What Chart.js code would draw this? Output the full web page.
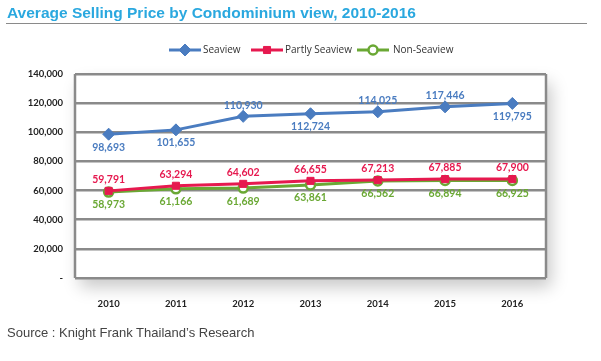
<!DOCTYPE html>
<html lang="en">
<head>
  <meta charset="UTF-8">
  <title>Average Selling Price by Condominium view</title>
  <script src="https://cdn.jsdelivr.net/npm/chart.js"></script>
  <style>
    body { margin: 0; background: #fff; }
    .wrap { position: relative; width: 601px; height: 361px; }
    .title {
      position: absolute; left: 7px; top: 4px;
      font: bold 15.5px "Liberation Sans", Arial, sans-serif;
      color: #2aa8df;
    }
    .rule { position: absolute; left: 6px; top: 23px; width: 581px; height: 1px; background: #8a8a8a; }
    .source {
      position: absolute; left: 7px; top: 325px;
      font: 13px "Liberation Sans", Arial, sans-serif; color: #444;
    }
    canvas { position: absolute; left: 0; top: 0; }
  </style>
</head>
<body>
  <div class="wrap">
    <canvas id="chart" width="601" height="361"></canvas>
    <div class="title">Average Selling Price by Condominium view, 2010-2016</div>
    <div class="rule"></div>
    <div class="source">Source : Knight Frank Thailand’s Research</div>
  </div>

  <script>
    const years = ['2010', '2011', '2012', '2013', '2014', '2015', '2016'];
    const seaview = [98693, 101655, 110930, 112724, 114025, 117446, 119795];
    const partlySeaview = [59791, 63294, 64602, 66655, 67213, 67885, 67900];
    const nonSeaview = [58973, 61166, 61689, 63861, 66562, 66894, 66925];
    const yTicks = [0, 20000, 40000, 60000, 80000, 100000, 120000, 140000];

    // label above (-1) or below (+1) the point
    const seaviewPos = [1, 1, -1, 1, -1, -1, 1];

    const blue = '#4a7cc0';
    const red = '#e6194f';
    const green = '#6aa834';

    // white plot with drop shadow + gray frame
    const plotBox = {
      id: 'plotBox',
      beforeDraw(chart) {
        const { ctx, chartArea: a } = chart;
        ctx.save();
        ctx.shadowColor = 'rgba(0,0,0,0.22)';
        ctx.shadowBlur = 16;
        ctx.shadowOffsetX = 5;
        ctx.shadowOffsetY = 9;
        ctx.fillStyle = '#fff';
        ctx.fillRect(a.left, a.top, a.right - a.left, a.bottom - a.top);
        ctx.restore();
      },
      afterDatasetsDraw(chart) {
        const { ctx, chartArea: a } = chart;
        ctx.save();
        ctx.strokeStyle = '#8a8a8a';
        ctx.lineWidth = 2.5;
        ctx.beginPath();
        ctx.moveTo(a.left, a.top);
        ctx.lineTo(a.left, a.bottom);
        ctx.moveTo(a.right, a.top);
        ctx.lineTo(a.right, a.bottom);
        ctx.stroke();
        ctx.restore();
      }
    };

    // value labels next to each point
    const pointLabels = {
      id: 'pointLabels',
      afterDatasetsDraw(chart) {
        const { ctx } = chart;
        ctx.save();
        ctx.font = 'bold 10.5px Lato, "Open Sans", sans-serif';
        ctx.textAlign = 'center';
        ctx.textBaseline = 'middle';
        chart.data.datasets.forEach((ds, i) => {
          const meta = chart.getDatasetMeta(i);
          ctx.fillStyle = ds.borderColor;
          meta.data.forEach((pt, j) => {
            const dir = ds.labelPos[j];
            const off = dir < 0 ? 11 : 13;
            ctx.fillText(ds.data[j].toLocaleString('en-US'), pt.x, pt.y + dir * off);
          });
        });
        ctx.restore();
      }
    };

    // legend: line segment with marker, then text
    const lineLegend = {
      id: 'lineLegend',
      afterDraw(chart) {
        const { ctx } = chart;
        const y = 50;
        const items = [
          { x: 169, textX: 203 },
          { x: 251, textX: 285 },
          { x: 357, textX: 393 }
        ];
        ctx.save();
        ctx.font = '10px "Open Sans", sans-serif';
        ctx.textBaseline = 'middle';
        chart.data.datasets.forEach((ds, i) => {
          const it = items[i];
          ctx.strokeStyle = ds.borderColor;
          ctx.lineWidth = 3;
          ctx.beginPath();
          ctx.moveTo(it.x, y);
          ctx.lineTo(it.x + 32, y);
          ctx.stroke();
          ctx.fillStyle = ds.pointBackgroundColor;
          ctx.strokeStyle = ds.borderColor;
          ctx.lineWidth = ds.pointBorderWidth || 1;
          Chart.helpers.drawPoint(ctx, {
            pointStyle: ds.pointStyle,
            radius: ds.pointRadius,
            borderWidth: ds.pointBorderWidth || 1
          }, it.x + 16, y);
          ctx.fillStyle = '#333';
          ctx.fillText(ds.label, it.textX, y);
        });
        ctx.restore();
      }
    };

    new Chart(document.getElementById('chart'), {
      type: 'line',
      data: {
        labels: years,
        datasets: [{
          label: 'Seaview',
          data: seaview,
          labelPos: seaviewPos,
          borderColor: blue,
          backgroundColor: blue,
          pointBackgroundColor: blue,
          pointStyle: 'rectRot',
          pointRadius: 6,
          pointBorderWidth: 1,
          borderWidth: 3,
          tension: 0
        }, {
          label: 'Partly Seaview',
          data: partlySeaview,
          labelPos: [-1, -1, -1, -1, -1, -1, -1],
          borderColor: red,
          backgroundColor: red,
          pointBackgroundColor: red,
          pointStyle: 'rect',
          pointRadius: 5,
          pointBorderWidth: 1,
          borderWidth: 3,
          tension: 0
        }, {
          label: 'Non-Seaview',
          data: nonSeaview,
          labelPos: [1, 1, 1, 1, 1, 1, 1],
          borderColor: green,
          backgroundColor: '#fff',
          pointBackgroundColor: '#fff',
          pointStyle: 'circle',
          pointRadius: 4.5,
          pointBorderWidth: 2.5,
          borderWidth: 3,
          tension: 0
        }]
      },
      options: {
        responsive: false,
        animation: false,
        layout: { padding: { top: 74, right: 55, left: 0, bottom: 0 } },
        plugins: {
          legend: { display: false },
          tooltip: { enabled: false }
        },
        scales: {
          x: {
            offset: true,
            grid: { display: false },
            border: { display: false },
            ticks: {
              padding: 12,
              color: '#222',
              font: { family: 'Lato, sans-serif', weight: 'bold', size: 9.5 }
            },
            afterFit(scale) { scale.height = 83; }
          },
          y: {
            min: 0,
            max: 140000,
            afterBuildTicks(scale) { scale.ticks = yTicks.map(v => ({ value: v })); },
            grid: { color: '#8a8a8a', lineWidth: 2.5, drawTicks: false },
            border: { display: false },
            ticks: {
              padding: 12,
              color: '#222',
              font: { family: 'Lato, sans-serif', weight: 'bold', size: 9.5 },
              callback: v => v === 0 ? '-' : v.toLocaleString('en-US')
            },
            afterFit(scale) { scale.width = 75; }
          }
        }
      },
      plugins: [plotBox, pointLabels, lineLegend]
    });
  </script>
</body>
</html>
